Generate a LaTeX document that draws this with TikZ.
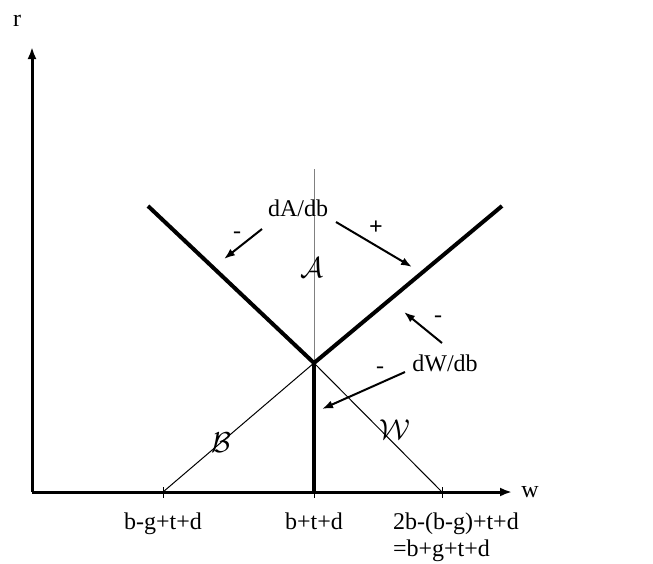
\documentclass[tikz,border=0pt]{standalone}
\usepackage{fontspec}
\setmainfont{Liberation Serif}
\usetikzlibrary{arrows.meta,calc}

\begin{document}
\begin{tikzpicture}[x=0.5pt,y=-0.5pt,font=\fontsize{12}{13.5}\selectfont,
    axis/.style={line width=1.5pt,-{Latex[length=6pt,width=4.5pt]}},
    kink/.style={line width=2pt},
    guide/.style={line width=0.5pt},
    sign/.style={line width=1pt,-{Latex[length=5.5pt,width=4pt]}}]
  \useasboundingbox (0,0) rectangle (653,563);

  % main points
  \coordinate (O) at (32,492);
  \coordinate (V) at (314,363);
  \coordinate (tl) at (163,492);
  \coordinate (tm) at (314,492);
  \coordinate (tr) at (442,492);
  \coordinate (armL) at (148,206);
  \coordinate (armR) at (502,206);
  \coordinate (top) at (314,169);

  % axes
  \draw[axis] (O) -- (32,47) coordinate (ytip);
  \draw[axis] (O) -- (512,492) coordinate (xtip);
  \node (rlab) at (17,21) {r};
  \node (wlab) at (530,492) {w};
  \foreach \t in {tl,tm,tr}
    {\draw[guide] ($(\t)+(0,-5)$) -- ($(\t)+(0,6)$);}

  % thin lines
  \draw[guide,gray] (top) -- (V);
  \draw[guide] (tl) -- ($(tl)!1.04!(V)$);
  \draw[guide] (tr) -- ($(tr)!1.04!(V)$);

  % thick kinked curve
  \draw[kink] (armL) -- (V) -- (armR);
  \draw[kink] (V) -- (tm);

  % region labels
  \node (A) at (312,268) {\Large$\mathcal{A}$};
  \node (B) at (221,443) {\Large$\mathcal{B}$};
  \node (W) at (395,430) {\Large$\mathcal{W}$};

  % derivative labels and arrows
  \node (dA) at (298,208) {dA/db};
  \node (dW) at (445,363) {dW/db};
  \coordinate (a1s) at (262,229); \coordinate (a1e) at (224,259);
  \coordinate (a2s) at (336,222); \coordinate (a2e) at (412,267);
  \coordinate (a3s) at (442,343); \coordinate (a3e) at (404,312);
  \coordinate (a4s) at (405,372); \coordinate (a4e) at (322,409);
  \draw[sign] (a1s) -- (a1e);
  \draw[sign] (a2s) -- (a2e);
  \draw[sign] (a3s) -- (a3e);
  \draw[sign] (a4s) -- (a4e);
  \node (m1) at (237,235) {-};
  \node (p2) at (376,228) {\textbf{+}};
  \node (m3) at (438,319) {-};
  \node (m4) at (380,370) {-};

  % tick labels
  \node[anchor=base] (l1) at (163,529) {b-g+t+d};
  \node[anchor=base] (l2) at (314,529) {b+t+d};
  \node[anchor=base west,align=left] (l3) at (386,556) {2b-(b-g)+t+d\\=b+g+t+d};
\end{tikzpicture}
\end{document}
